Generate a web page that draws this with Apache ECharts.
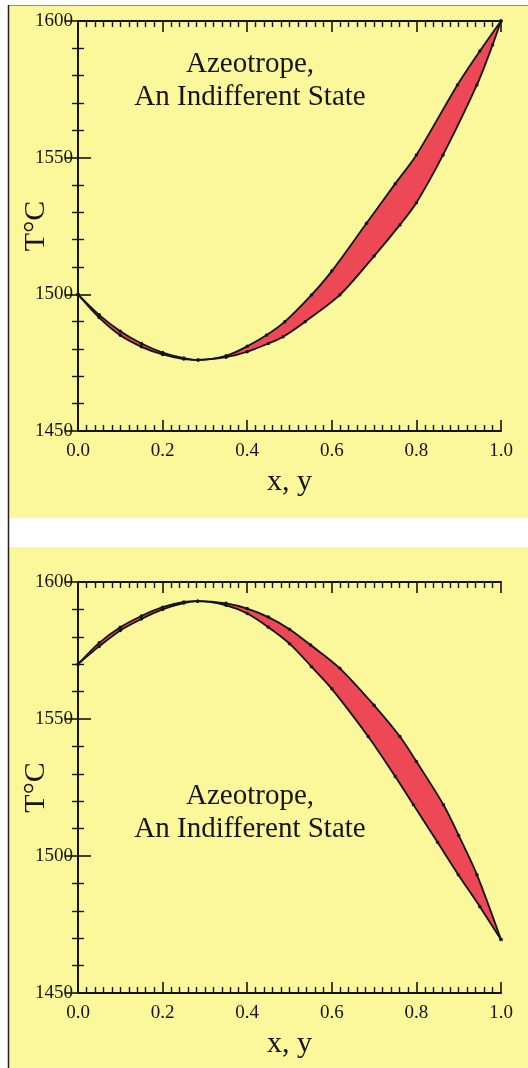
<!DOCTYPE html>
<html>
<head>
<meta charset="utf-8">
<script src="https://cdn.jsdelivr.net/npm/echarts@6/dist/echarts.min.js"></script>
<style>
  html, body { margin: 0; padding: 0; background: #fff; }
  #chart { width: 528px; height: 1068px; }
</style>
</head>
<body>
<div id="chart"></div>
<script>
// top panel - minimum azeotrope (x, T in degC)
var topUpperX = [0, 0.05, 0.1, 0.15, 0.2, 0.25, 0.284, 0.35, 0.4, 0.446, 0.489, 0.552, 0.6, 0.682, 0.75, 0.8, 0.897, 0.95, 1];
var topUpperT = [1500, 1492.5, 1486.5, 1482, 1478.7, 1476.7, 1476, 1477.5, 1481, 1485.1, 1490, 1499.8, 1508.5, 1526, 1540.5, 1551, 1576.6, 1589, 1600];
var topLowerX = [0, 0.05, 0.1, 0.15, 0.2, 0.25, 0.284, 0.35, 0.4, 0.45, 0.485, 0.537, 0.619, 0.7, 0.761, 0.8, 0.863, 0.943, 0.98, 1];
var topLowerT = [1500, 1491.5, 1485, 1480.8, 1478, 1476.3, 1476, 1477, 1479, 1482, 1484.5, 1490, 1499.8, 1514, 1525.4, 1533.5, 1551, 1576.6, 1591.2, 1600];

// bottom panel - maximum azeotrope
var botUpperX = [0, 0.05, 0.1, 0.15, 0.2, 0.25, 0.283, 0.35, 0.4, 0.45, 0.5, 0.55, 0.619, 0.7, 0.761, 0.8, 0.864, 0.9, 0.943, 1];
var botUpperT = [1570, 1577.8, 1583.5, 1587.6, 1590.8, 1592.7, 1593, 1592.2, 1590.3, 1587.2, 1582.8, 1577, 1568.5, 1555, 1543.6, 1534.5, 1518.7, 1507.5, 1493.2, 1469.5];
var botLowerX = [0, 0.05, 0.1, 0.15, 0.2, 0.25, 0.283, 0.35, 0.4, 0.45, 0.5, 0.552, 0.6, 0.686, 0.75, 0.793, 0.85, 0.899, 0.95, 1];
var botLowerT = [1570, 1576.5, 1582.3, 1586.5, 1590, 1592.3, 1593, 1591.5, 1588.5, 1583.5, 1577.5, 1569.1, 1561, 1543.6, 1529, 1518.7, 1505, 1493.2, 1481.5, 1469.5];

var yTicks = [1450, 1500, 1550, 1600];
var xTicks = [0, 0.2, 0.4, 0.6, 0.8, 1.0];
var noteText = 'Azeotrope,\nAn Indifferent State';

var ink = '#141414';
var yellow = '#FBF89C';
var red = '#EC4856';
var serif = 'Liberation Serif';

function pairs(xs, ts) {
  return xs.map(function (x, i) { return [x, ts[i]]; });
}

function xAxes(g) {
  var base = {
    gridIndex: g, type: 'value', z: 6, min: xTicks[0], max: xTicks[xTicks.length - 1], interval: 0.2,
    axisLine: { lineStyle: { color: ink, width: 2 } },
    axisTick: { inside: true, length: 11, lineStyle: { color: ink, width: 1.6 } },
    minorTick: { show: true, splitNumber: 10, length: 6, lineStyle: { color: ink, width: 1.4 } },
    splitLine: { show: false }
  };
  return [
    Object.assign({}, base, {
      position: 'bottom',
      name: 'x, y', nameLocation: 'middle', nameGap: 36, nameMoveOverlap: false,
      nameTextStyle: { fontFamily: serif, fontSize: 30, color: ink },
      axisLabel: { margin: 11, fontFamily: serif, fontSize: 19, color: ink,
        formatter: function (v) { return v.toFixed(1); } }
    }),
    Object.assign({}, base, { position: 'top', axisLabel: { show: false } })
  ];
}

function yAxes(g) {
  var base = {
    gridIndex: g, type: 'value', z: 6, min: yTicks[0], max: yTicks[yTicks.length - 1], interval: 50,
    axisLine: { lineStyle: { color: ink, width: 2 } },
    axisTick: { inside: true, length: 13, lineStyle: { color: ink, width: 1.6 } },
    minorTick: { show: true, splitNumber: 5, length: 6, lineStyle: { color: ink, width: 1.4 } },
    splitLine: { show: false }
  };
  return [
    Object.assign({}, base, {
      position: 'left',
      name: 'T°C', nameLocation: 'middle', nameRotate: 90, nameGap: 27, nameMoveOverlap: false,
      nameTextStyle: { fontFamily: serif, fontSize: 30, color: ink },
      axisLabel: { margin: 5, fontFamily: serif, fontSize: 19, color: ink,
        formatter: function (v) { return String(v); } }
    }),
    Object.assign({}, base, { position: 'right', axisLabel: { show: false } })
  ];
}

// area under a curve, filled down to the axis start; the red band is what
// remains between the upper (red) and lower (yellow, painted over) fills
function fill(g, xs, ts, color, z) {
  return {
    type: 'line', xAxisIndex: 2 * g, yAxisIndex: 2 * g, z: z,
    data: pairs(xs, ts), smooth: 0.3, showSymbol: false,
    lineStyle: { width: 0 },
    areaStyle: { color: color, opacity: 1, origin: 'start' },
    silent: true
  };
}

function curve(g, xs, ts) {
  return {
    type: 'line', xAxisIndex: 2 * g, yAxisIndex: 2 * g, z: 4,
    data: pairs(xs, ts), smooth: 0.3,
    symbol: 'circle', symbolSize: 3.5, showSymbol: true,
    itemStyle: { color: ink },
    lineStyle: { color: ink, width: 1.8 },
    silent: true
  };
}

var chart = echarts.init(document.getElementById('chart'));
chart.setOption({
  animation: false,
  backgroundColor: '#ffffff',
  graphic: {
    elements: [
      { type: 'rect', z: -10, shape: { x: 8, y: 5, width: 520, height: 513 }, style: { fill: yellow } },
      { type: 'rect', z: -10, shape: { x: 8, y: 547, width: 520, height: 521 }, style: { fill: yellow } },
      { type: 'line', z: -5, shape: { x1: 8, y1: 5.5, x2: 528, y2: 5.5 }, style: { stroke: '#8a90a0', lineWidth: 1 } },
      { type: 'line', z: -5, shape: { x1: 8.5, y1: 5, x2: 8.5, y2: 1068 }, style: { stroke: '#222', lineWidth: 1.5 } },
      { type: 'text', z: 10, x: 250, y: 48, style: { text: noteText, font: '29px "Liberation Serif"', align: 'center', verticalAlign: 'top', lineHeight: 33, fill: ink } },
      { type: 'text', z: 10, x: 250, y: 780, style: { text: noteText, font: '29px "Liberation Serif"', align: 'center', verticalAlign: 'top', lineHeight: 33, fill: ink } }
    ]
  },
  grid: [
    { left: 78, top: 21, width: 423, height: 410, outerBoundsMode: 'none', containLabel: false },
    { left: 78, top: 582, width: 423, height: 411, outerBoundsMode: 'none', containLabel: false }
  ],
  xAxis: xAxes(0).concat(xAxes(1)),
  yAxis: yAxes(0).concat(yAxes(1)),
  series: [
    fill(0, topUpperX, topUpperT, red, 1),
    fill(0, topLowerX, topLowerT, yellow, 2),
    curve(0, topUpperX, topUpperT),
    curve(0, topLowerX, topLowerT),
    fill(1, botUpperX, botUpperT, red, 1),
    fill(1, botLowerX, botLowerT, yellow, 2),
    curve(1, botUpperX, botUpperT),
    curve(1, botLowerX, botLowerT)
  ]
});
window.addEventListener('resize', function () { chart.resize(); });
</script>
</body>
</html>
